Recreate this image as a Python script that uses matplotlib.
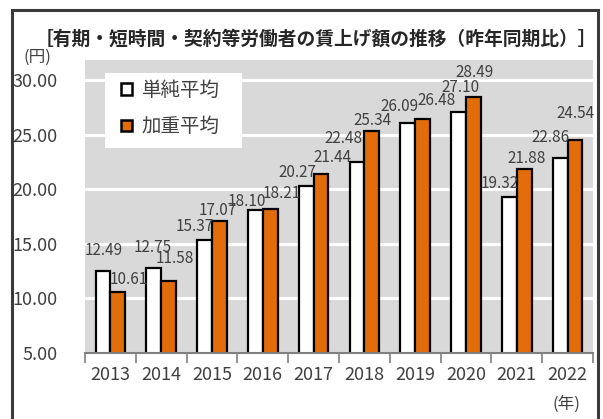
import matplotlib
matplotlib.use('Agg')
import matplotlib.pyplot as plt
import numpy as np
from matplotlib.patches import Rectangle

plt.rcParams['font.family'] = ['Noto Sans CJK JP', 'DejaVu Sans']

years = ['2013', '2014', '2015', '2016', '2017', '2018', '2019', '2020', '2021', '2022']
simple_avg = [12.49, 12.75, 15.37, 18.10, 20.27, 22.48, 26.09, 27.10, 19.32, 22.86]
weighted_avg = [10.61, 11.58, 17.07, 18.21, 21.44, 25.34, 26.48, 28.49, 21.88, 24.54]
series_names = ['単純平均', '加重平均']
title = '［有期・短時間・契約等労働者の賃上げ額の推移（昨年同期比）］'

# label nudges in pixels (the original labels were moved by hand)
simple_off = [(1, 21), (-1, 21), (-10, 13), (-9, 9), (-9, 14),
              (-14, 24), (-8, 16), (2, 24), (-10, 13), (-10, 21)]
weighted_off = [(11, 12), (6, 23), (-2, 11), (12, 15), (12, 16),
                (1, 11), (14, 18), (1, 24), (2, 10), (1, 26)]

txt = '#404040'
orange = '#E36C0A'

fig = plt.figure(figsize=(6.03, 4.19), dpi=100)
ax = fig.add_axes([85/603, 1-353/419, 508/603, 293/419])
ax.set_facecolor('#D9D9D9')

x = np.arange(len(years))
w = 0.29
b1 = ax.bar(x - w/2, simple_avg, w, color='white', edgecolor='black',
            linewidth=1.6, label=series_names[0], zorder=3)
b2 = ax.bar(x + w/2, weighted_avg, w, color=orange, edgecolor='black',
            linewidth=1.6, label=series_names[1], zorder=3)

for bars, vals, offs in [(b1, simple_avg, simple_off), (b2, weighted_avg, weighted_off)]:
    for r, v, (dx, dy) in zip(bars, vals, offs):
        ax.annotate(f'{v:.2f}', (r.get_x() + r.get_width()/2, v), xytext=(dx, dy),
                    textcoords='offset pixels', ha='center', va='center',
                    fontsize=11, color=txt, zorder=5, annotation_clip=False)

ax.set_xlim(-0.5, 9.5)
ax.set_ylim(5, 31.85)
ax.set_yticks([5, 10, 15, 20, 25, 30])
ax.set_yticklabels([f'{v:.2f}' for v in [5, 10, 15, 20, 25, 30]])
ax.yaxis.grid(True, color='white', linewidth=2.2, zorder=1)
ax.set_axisbelow(True)
ax.tick_params(axis='y', length=0, pad=20, labelsize=13, labelcolor=txt)

ax.set_xticks(x)
ax.set_xticklabels(years)
ax.tick_params(axis='x', length=0, pad=9, labelsize=13, labelcolor=txt)
ax.set_xticks(np.arange(-0.5, 10, 1), minor=True)
ax.tick_params(axis='x', which='minor', length=7, width=1.2, color='#808080')

for s in ['left', 'right', 'top']:
    ax.spines[s].set_visible(False)
ax.spines['bottom'].set_color('#808080')
ax.spines['bottom'].set_linewidth(1.5)
ax.spines['bottom'].set_zorder(4)

# white legend box
ax.add_patch(Rectangle((0.0394, 0.6997), 0.2697, 0.2559, transform=ax.transAxes,
                       facecolor='white', edgecolor='none', zorder=2))
leg = ax.legend(loc='center left', bbox_to_anchor=(0.071, 0.834), fontsize=14,
                frameon=False, handlelength=0.55, handleheight=0.55,
                handletextpad=0.5, labelspacing=0.8, borderpad=0, borderaxespad=0)
for t in leg.get_texts():
    t.set_color(txt)
for h in leg.legend_handles:
    h.set_linewidth(1.8)

fig.text(316/603, 1-39/419, title, ha='center', va='center', fontsize=13.5,
         fontweight='bold', color='#262626')
fig.text(37/603, 1-57/419, '(円)', ha='center', va='center', fontsize=12, color=txt)
fig.text(566/603, 1-404/419, '(年)', ha='center', va='center', fontsize=12, color=txt)

fig.patches.append(Rectangle((12/603, -0.05), 586/603, 1.05 - 10/419, transform=fig.transFigure,
                             fill=False, edgecolor='#3A3A3A', linewidth=2.2))

fig.savefig('out.png', dpi=100)
